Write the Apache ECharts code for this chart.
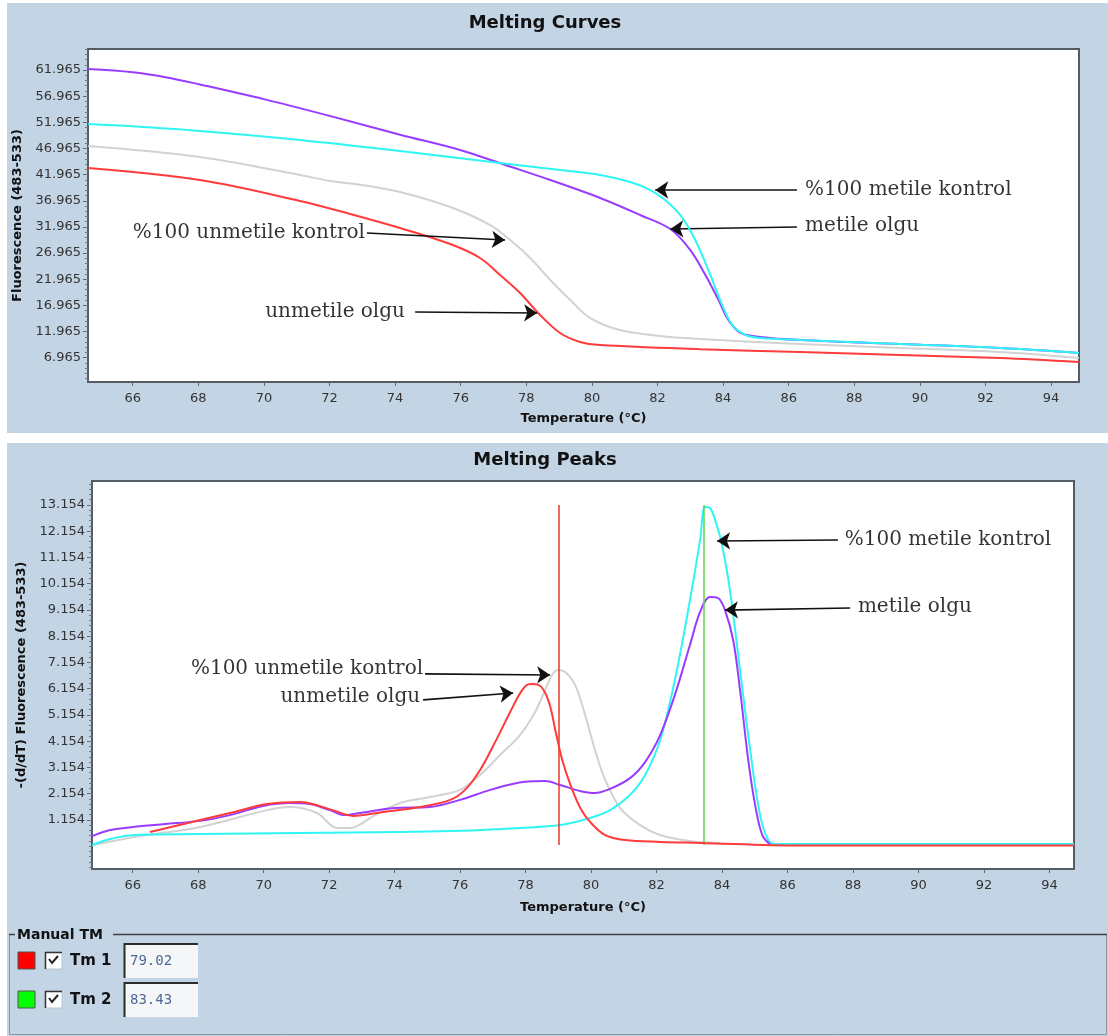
<!DOCTYPE html>
<html>
<head>
<meta charset="utf-8">
<title>Melting Curves / Melting Peaks</title>
<script src="https://cdn.jsdelivr.net/npm/echarts@6/dist/echarts.min.js"></script>
<style>
  html, body { margin: 0; padding: 0; background: #ffffff; }
  #chart { width: 1108px; height: 1036px; }
</style>
</head>
<body>
<div id="chart"></div>
<script>
// ---- Melting Curves: [temperature °C, fluorescence (483-533)] ----
const curveMetileKontrol = [
  [64.64, 51.64], [66.0, 51.2], [68.05, 50.3], [71.1, 48.58], [74.15, 46.48], [77.2, 44.19],
  [79.03, 42.85], [80.25, 41.89], [81.17, 40.55], [81.78, 39.02], [82.23, 37.11], [82.69, 34.25],
  [83.15, 29.47], [83.61, 22.78], [83.97, 17.05], [84.28, 13.22], [84.68, 11.3], [85.13, 10.73],
  [86.35, 10.35], [89.4, 9.58], [92.45, 8.82], [94.85, 7.87]
];
const curveMetileOlgu = [
  [64.64, 62.16], [66.0, 61.55], [67.0, 60.6], [68.05, 59.2], [70.0, 56.4], [72.0, 53.2],
  [74.15, 49.6], [75.98, 46.67], [77.36, 43.8], [78.73, 40.94], [80.25, 37.5], [81.47, 34.25],
  [82.39, 31.57], [83.0, 27.55], [83.46, 22.77], [83.86, 17.99], [84.16, 14.17], [84.53, 11.69],
  [85.13, 10.93], [86.35, 10.35], [89.4, 9.58], [92.45, 8.82], [94.85, 7.87]
];
const curveUnmetileKontrol = [
  [64.64, 47.44], [68.05, 45.33], [71.1, 41.89], [72.02, 40.75], [73.1, 39.9], [74.15, 38.64],
  [75.68, 35.77], [76.9, 32.33], [77.51, 29.46], [78.12, 26.02], [78.73, 21.81], [79.34, 17.99],
  [79.95, 14.55], [80.86, 12.26], [82.08, 11.11], [83.3, 10.54], [86.35, 9.58], [89.4, 8.82],
  [92.45, 8.06], [94.85, 6.9]
];
const curveUnmetileOlgu = [
  [64.64, 43.23], [68.05, 40.94], [71.1, 36.93], [72.63, 34.44], [74.15, 31.76], [75.68, 28.7],
  [76.59, 26.03], [77.2, 22.77], [77.81, 19.33], [78.42, 15.13], [79.03, 11.69], [79.64, 9.97],
  [80.25, 9.39], [83.3, 8.6], [86.35, 8.06], [89.4, 7.49], [92.45, 6.9], [94.85, 6.14]
];

// ---- Melting Peaks: [temperature °C, -(d/dT) fluorescence] ----
const peakMetileKontrol = [
  [64.76, 0.2], [65.31, 0.43], [66.07, 0.58], [68.06, 0.62], [71.11, 0.66], [74.17, 0.7],
  [76.0, 0.74], [77.83, 0.85], [79.05, 0.96], [79.97, 1.23], [80.58, 1.53], [81.19, 2.11],
  [81.65, 2.87], [82.11, 4.2], [82.56, 6.49], [83.02, 9.53], [83.33, 11.82], [83.48, 13.08],
  [83.63, 13.04], [83.79, 12.58], [84.0, 11.63], [84.24, 9.92], [84.55, 6.87], [84.86, 3.82],
  [85.16, 1.35], [85.41, 0.39], [85.62, 0.24], [86.38, 0.24], [94.75, 0.24]
];
const peakMetileOlgu = [
  [64.76, 0.54], [65.31, 0.77], [66.01, 0.89], [66.99, 1.0], [68.06, 1.12], [68.97, 1.34],
  [69.98, 1.69], [70.8, 1.8], [71.41, 1.76], [72.02, 1.53], [72.48, 1.34], [72.95, 1.42],
  [73.98, 1.61], [75.08, 1.65], [76.0, 1.92], [76.92, 2.3], [77.98, 2.61], [78.6, 2.64],
  [79.05, 2.49], [79.66, 2.26], [80.11, 2.18], [80.58, 2.34], [81.19, 2.75], [81.65, 3.36],
  [82.11, 4.39], [82.56, 5.92], [83.02, 7.82], [83.33, 9.08], [83.63, 9.65], [83.88, 9.61],
  [84.09, 9.15], [84.34, 8.01], [84.55, 6.11], [84.8, 3.44], [85.01, 1.73], [85.23, 0.58],
  [85.47, 0.22]
];
const peakUnmetileKontrol = [
  [64.79, 0.2], [66.01, 0.5], [68.06, 0.89], [70.1, 1.53], [70.81, 1.65], [71.63, 1.42],
  [72.24, 0.85], [72.64, 0.85], [73.4, 1.34], [74.17, 1.8], [75.08, 2.03], [76.0, 2.3],
  [76.61, 2.87], [77.22, 3.63], [77.83, 4.39], [78.29, 5.27], [78.6, 6.11], [78.81, 6.68],
  [78.99, 6.87], [79.21, 6.79], [79.51, 6.3], [79.82, 5.15], [80.12, 3.82], [80.43, 2.68],
  [80.89, 1.61], [81.5, 0.96], [82.11, 0.58], [83.02, 0.35], [83.94, 0.28]
];
const peakUnmetileOlgu = [
  [66.53, 0.7], [68.06, 1.15], [68.97, 1.42], [70.1, 1.76], [71.11, 1.84], [72.11, 1.53],
  [72.73, 1.31], [73.65, 1.46], [74.78, 1.65], [75.7, 1.92], [76.15, 2.3], [76.61, 3.06],
  [77.07, 4.12], [77.53, 5.27], [77.9, 6.11], [78.14, 6.33], [78.39, 6.3], [78.69, 5.73],
  [78.94, 4.39], [79.12, 3.44], [79.37, 2.49], [79.67, 1.61], [79.97, 1.08], [80.43, 0.58],
  [81.04, 0.39], [82.11, 0.32], [83.33, 0.28], [86.38, 0.18], [94.75, 0.18]
];

// ---- Manual Tm markers ----
const tmNames = ['Tm 1', 'Tm 2'];
const tmValues = [79.02, 83.43];
const tmSpan = [0.2, 13.154];

// ---- Tick labels ----
const tempTicks = [66, 68, 70, 72, 74, 76, 78, 80, 82, 84, 86, 88, 90, 92, 94];
const curveTicks = [6.965, 11.965, 16.965, 21.965, 26.965, 31.965, 36.965, 41.965, 46.965, 51.965, 56.965, 61.965];
const peakTicks = [1.154, 2.154, 3.154, 4.154, 5.154, 6.154, 7.154, 8.154, 9.154, 10.154, 11.154, 12.154, 13.154];

// ---- Annotations: label anchor [T, value], arrow tail [T, value], arrow head [T, value] ----
const curveNotes = [
  { text: '%100 metile kontrol',   side: 'right', at: [86.5, 39.03],  from: [86.25, 39.03], to: [81.93, 39.03] },
  { text: 'metile olgu',           side: 'right', at: [86.5, 32.14],  from: [86.25, 31.95], to: [82.39, 31.57] },
  { text: '%100 unmetile kontrol', side: 'left',  at: [73.08, 30.8],  from: [73.14, 30.8],  to: [77.35, 29.47] },
  { text: 'unmetile olgu',         side: 'left',  at: [74.3, 15.7],   from: [74.61, 15.7],  to: [78.33, 15.5] }
];
const peakNotes = [
  { text: '%100 metile kontrol',   side: 'right', at: [87.75, 11.82], from: [87.54, 11.82], to: [83.85, 11.78] },
  { text: 'metile olgu',           side: 'right', at: [88.15, 9.27],  from: [87.91, 9.23],  to: [84.09, 9.15] },
  { text: '%100 unmetile kontrol', side: 'left',  at: [74.87, 6.91],  from: [74.93, 6.72],  to: [78.75, 6.68] },
  { text: 'unmetile olgu',         side: 'left',  at: [74.78, 5.84],  from: [74.87, 5.73],  to: [77.62, 5.99] }
];

// ---- Styling ----
const PANEL = '#c3d4e4';
const FRAME = '#555b62';
const UI_FONT = 'DejaVu Sans';
const NOTE_FONT = 'DejaVu Serif';
const COLORS = { metileKontrol: '#2ff5f5', metileOlgu: '#9a3cff', unmetileKontrol: '#d2d2d2', unmetileOlgu: '#ff3b3b' };

const curveRange = { min: 2.32, max: 65.98 };
const peakRange = { min: -0.713, max: 14.068 };

function minorSteps(start, step, max) {
  const out = [];
  for (let v = start; v <= max; v += step) out.push(+v.toFixed(3));
  return out;
}

function tempAxis(gridIndex, min, max, nameGap) {
  return {
    type: 'value', gridIndex, min, max,
    name: 'Temperature (°C)', nameLocation: 'middle', nameGap,
    nameTextStyle: { fontFamily: UI_FONT, fontWeight: 'bold', fontSize: 13, color: '#111' },
    axisLine: { show: true, onZero: false, lineStyle: { color: FRAME, width: 2 } },
    axisTick: { show: true, customValues: tempTicks, length: 4, lineStyle: { color: '#666', width: 1 } },
    axisLabel: { customValues: tempTicks, margin: 10, color: '#333', fontFamily: UI_FONT, fontSize: 13,
                 formatter: v => String(Math.round(v)) },
    splitLine: { show: false }
  };
}

function valueAxis(gridIndex, range, ticks, name, nameGap) {
  return {
    type: 'value', gridIndex, min: range.min, max: range.max, position: 'left',
    name, nameLocation: 'middle', nameGap,
    nameTextStyle: { fontFamily: UI_FONT, fontWeight: 'bold', fontSize: 13, color: '#111' },
    axisLine: { show: true, onZero: false, lineStyle: { color: FRAME, width: 2 } },
    axisTick: { show: true, customValues: ticks, length: 5, lineStyle: { color: '#666', width: 1 } },
    axisLabel: { customValues: ticks, margin: 7, color: '#333', fontFamily: UI_FONT, fontSize: 13,
                 formatter: v => v.toFixed(3) },
    splitLine: { show: false }
  };
}

function minorAxis(gridIndex, range, ticks) {
  return {
    type: 'value', gridIndex, min: range.min, max: range.max, position: 'left',
    axisLine: { show: false },
    axisTick: { show: true, customValues: ticks, length: 3, lineStyle: { color: '#777', width: 1 } },
    axisLabel: { show: false },
    splitLine: { show: false }
  };
}

function curve(name, data, color, gridIndex, z) {
  return {
    type: 'line', name, data, xAxisIndex: gridIndex, yAxisIndex: gridIndex * 2,
    smooth: 0.35, symbol: 'none', showSymbol: false, z,
    lineStyle: { color, width: 2 }, silent: true, animation: false
  };
}

function noteSeries(notes, gridIndex, extraLines) {
  const arrows = notes.map(n => [{ coord: n.from }, { coord: n.to }]);
  return {
    type: 'scatter', xAxisIndex: gridIndex, yAxisIndex: gridIndex * 2,
    symbolSize: 0, silent: true, animation: false, z: 10,
    data: notes.map(n => ({
      value: n.at, name: n.text,
      label: { show: true, position: n.side, distance: 0, formatter: '{b}',
               fontFamily: NOTE_FONT, fontSize: 20, color: '#000' }
    })),
    markLine: {
      silent: true, animation: false, symbol: ['none', 'arrow'], symbolSize: 13,
      label: { show: false },
      lineStyle: { color: '#111', width: 1.6, type: 'solid' },
      emphasis: { disabled: true },
      data: arrows.concat(extraLines || [])
    }
  };
}

const tmColors = ['#e8382a', '#5fd445'];
const tmLines = tmValues.map((t, i) => [
  { coord: [t, tmSpan[0]], symbol: 'none', lineStyle: { color: tmColors[i], width: 1.5 } },
  { coord: [t, tmSpan[1]], symbol: 'none' }
]);

// ---- Frame, titles and the Manual TM box ----
const frame = [
  { type: 'rect', z: -10, silent: true, shape: { x: 7, y: 3, width: 1101, height: 430 }, style: { fill: PANEL } },
  { type: 'rect', z: -10, silent: true, shape: { x: 7, y: 443, width: 1101, height: 593 }, style: { fill: PANEL } },
  { type: 'text', z: 5, silent: true, x: 545, y: 23,
    style: { text: 'Melting Curves', fontFamily: UI_FONT, fontWeight: 'bold', fontSize: 18, fill: '#111', align: 'center', verticalAlign: 'middle' } },
  { type: 'text', z: 5, silent: true, x: 545, y: 460,
    style: { text: 'Melting Peaks', fontFamily: UI_FONT, fontWeight: 'bold', fontSize: 18, fill: '#111', align: 'center', verticalAlign: 'middle' } },
  // group box
  { type: 'rect', z: 1, silent: true, shape: { x: 9.5, y: 934.5, width: 1097, height: 100 },
    style: { fill: 'none', stroke: '#8a96a3', lineWidth: 1 } },
  { type: 'line', z: 2, silent: true, shape: { x1: 9, y1: 934.5, x2: 1107, y2: 934.5 }, style: { stroke: '#3c4148', lineWidth: 1.5 } },
  { type: 'rect', z: 3, silent: true, shape: { x: 15, y: 926, width: 98, height: 18 }, style: { fill: PANEL } },
  { type: 'text', z: 4, silent: true, x: 17, y: 935,
    style: { text: 'Manual TM', fontFamily: UI_FONT, fontWeight: 'bold', fontSize: 14, fill: '#111', align: 'left', verticalAlign: 'middle' } }
];

tmValues.forEach((t, i) => {
  const y0 = 943 + i * 39;
  const cy = y0 + 18;
  frame.push(
    { type: 'rect', z: 4, silent: true, shape: { x: 18, y: cy - 9, width: 17, height: 17 },
      style: { fill: i === 0 ? '#ff0000' : '#00ff00', stroke: '#555', lineWidth: 1 } },
    { type: 'rect', z: 4, silent: true, shape: { x: 45, y: cy - 9, width: 17, height: 17 },
      style: { fill: '#ffffff', stroke: '#b8c4cf', lineWidth: 1 } },
    { type: 'polyline', z: 5, silent: true, shape: { points: [[45.5, cy + 8], [45.5, cy - 8.5], [62, cy - 8.5]] },
      style: { stroke: '#333', lineWidth: 1.5, fill: 'none' } },
    { type: 'polyline', z: 5, silent: true, shape: { points: [[49, cy - 2], [52, cy + 2], [58, cy - 5]] },
      style: { stroke: '#222', lineWidth: 2, fill: 'none' } },
    { type: 'text', z: 5, silent: true, x: 70, y: cy,
      style: { text: tmNames[i], fontFamily: UI_FONT, fontWeight: 'bold', fontSize: 15, fill: '#111', align: 'left', verticalAlign: 'middle' } },
    { type: 'rect', z: 4, silent: true, shape: { x: 124, y: y0, width: 74, height: 35 },
      style: { fill: '#f5f6f7' } },
    { type: 'polyline', z: 5, silent: true, shape: { points: [[124.5, y0 + 35], [124.5, y0 + 1], [198, y0 + 1]] },
      style: { stroke: '#2b2b2b', lineWidth: 2, fill: 'none' } },
    { type: 'text', z: 5, silent: true, x: 130, y: cy,
      style: { text: t.toFixed(2), fontFamily: 'DejaVu Sans Mono', fontSize: 14, fill: '#4d6a96', align: 'left', verticalAlign: 'middle' } }
  );
});

const option = {
  animation: false,
  backgroundColor: '#ffffff',
  grid: [
    { left: 88, top: 49, width: 991, height: 333, show: true, backgroundColor: '#ffffff', borderColor: FRAME, borderWidth: 2 },
    { left: 92, top: 481, width: 982, height: 388, show: true, backgroundColor: '#ffffff', borderColor: FRAME, borderWidth: 2 }
  ],
  xAxis: [
    tempAxis(0, 64.637, 94.85, 30),
    tempAxis(1, 64.757, 94.75, 32)
  ],
  yAxis: [
    valueAxis(0, curveRange, curveTicks, 'Fluorescence (483-533)', 53),
    minorAxis(0, curveRange, minorSteps(2.965, 1, curveRange.max)),
    valueAxis(1, peakRange, peakTicks, '-(d/dT) Fluorescence (483-533)', 56),
    minorAxis(1, peakRange, minorSteps(-0.646, 0.2, peakRange.max))
  ],
  graphic: { elements: frame },
  series: [
    curve('%100 unmetile kontrol', curveUnmetileKontrol, COLORS.unmetileKontrol, 0, 2),
    curve('unmetile olgu', curveUnmetileOlgu, COLORS.unmetileOlgu, 0, 3),
    curve('metile olgu', curveMetileOlgu, COLORS.metileOlgu, 0, 4),
    curve('%100 metile kontrol', curveMetileKontrol, COLORS.metileKontrol, 0, 5),
    noteSeries(curveNotes, 0),
    curve('%100 unmetile kontrol', peakUnmetileKontrol, COLORS.unmetileKontrol, 1, 2),
    curve('%100 metile kontrol', peakMetileKontrol, COLORS.metileKontrol, 1, 3),
    curve('metile olgu', peakMetileOlgu, COLORS.metileOlgu, 1, 4),
    curve('unmetile olgu', peakUnmetileOlgu, COLORS.unmetileOlgu, 1, 5),
    noteSeries(peakNotes, 1, tmLines)
  ]
};

const chart = echarts.init(document.getElementById('chart'), null, { renderer: 'canvas', width: 1108, height: 1036 });
chart.setOption(option);
</script>
</body>
</html>
